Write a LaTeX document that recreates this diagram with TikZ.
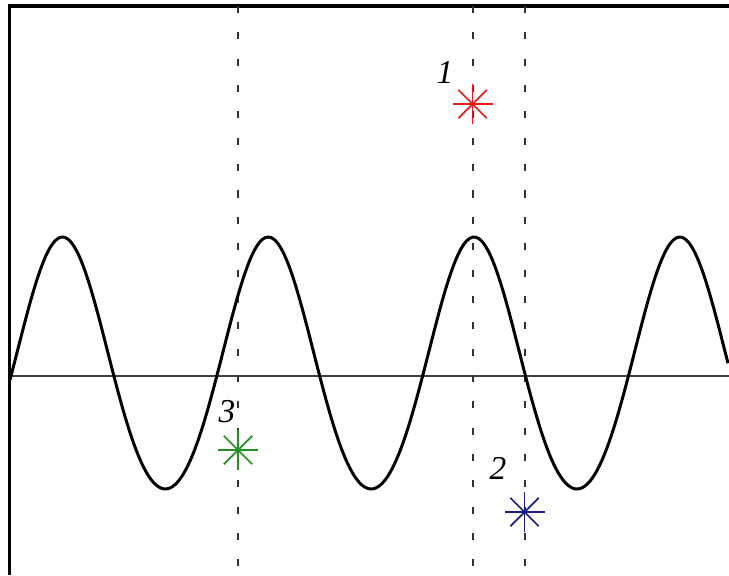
\documentclass[tikz,border=0pt]{standalone}
\usepackage{fontspec}
\setmainfont{Liberation Serif}
\usepackage{tikz}
\usetikzlibrary{positioning}

\definecolor{starred}{RGB}{232,28,28}
\definecolor{stargreen}{RGB}{34,145,34}
\definecolor{starblue}{RGB}{28,28,135}

\begin{document}
\begin{tikzpicture}[
    x=0.02cm, y=-0.02cm,
    frameline/.style={line width=2pt, black},
    baseline/.style={line width=1.1pt, black!75},
    wave/.style={line width=1.7pt, black},
    guide/.style={line width=1.3pt, black!80, dash pattern=on 4pt off 11pt},
    starmark/.style={line width=1pt},
    lbl/.style={inner sep=0pt, font=\fontsize{19}{21}\selectfont\itshape}
]
\useasboundingbox (0,0) rectangle (729,575);

% box and zero line
\draw[frameline] (9.5,575) -- (9.5,6) -- (729,6);
\draw[baseline] (10,376) -- (729,376);

% vertical guides
\foreach \x/\n in {238/a, 473/b, 525/c} {
    \coordinate (top\n) at (\x,6);
    \coordinate (bot\n) at (\x,575);
    \draw[guide] (top\n) -- (bot\n);
}

% the wave (period 205.8, 360/205.8 = 1.7493)
\draw[wave] plot[domain=10:728, samples=240, smooth]
    (\x, {376 - 126*sin(1.7493*(\x-11)) - 13*sin(1.7493*(\x-11))^2});

% points
\coordinate (s1) at (472.5,104);
\coordinate (s2) at (524.5,512);
\coordinate (s3) at (238,450);

\foreach \s/\c in {s1/starred, s2/starblue, s3/stargreen}
    \foreach \a in {0,45,90,135}
        \draw[starmark, \c] ([shift={(\a:20)}]\s) -- ([shift={(\a+180:20)}]\s);

\node[lbl] (n1) at (445,72) {1};
\node[lbl] (n2) at (498,468) {2};
\node[lbl] (n3) at (227,412) {3};

\end{tikzpicture}
\end{document}
